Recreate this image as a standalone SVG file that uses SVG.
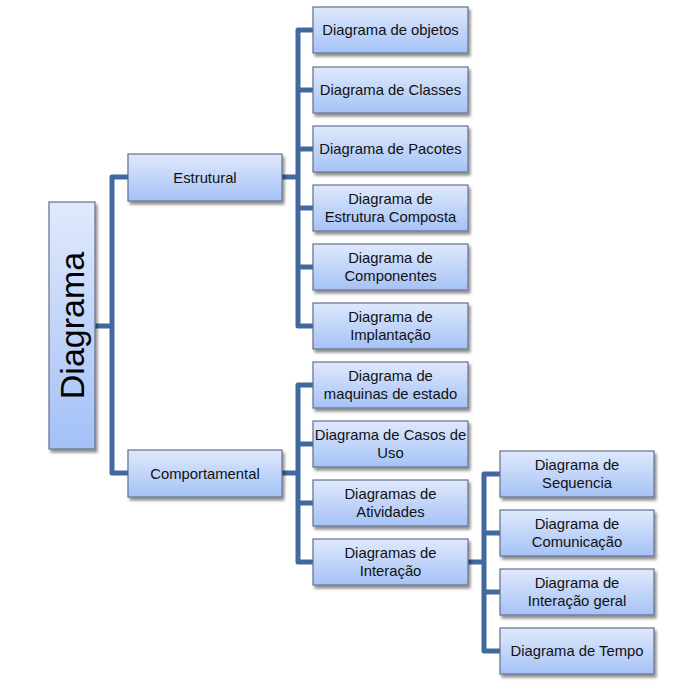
<svg xmlns="http://www.w3.org/2000/svg" width="692" height="692" viewBox="0 0 692 692">
<defs>
<linearGradient id="g" x1="0" y1="0" x2="0" y2="1">
<stop offset="0" stop-color="#dfe9fc"/>
<stop offset="1" stop-color="#a5c2f6"/>
</linearGradient>
<linearGradient id="gr" x1="0" y1="0" x2="0" y2="1">
<stop offset="0" stop-color="#e0eafc"/>
<stop offset="1" stop-color="#a3c0f6"/>
</linearGradient>
<filter id="sh" x="-10%" y="-10%" width="130%" height="140%">
<feGaussianBlur in="SourceAlpha" stdDeviation="1.6"/>
<feOffset dx="2" dy="3" result="b"/>
<feComponentTransfer><feFuncA type="linear" slope="0.45"/></feComponentTransfer>
<feMerge><feMergeNode/><feMergeNode in="SourceGraphic"/></feMerge>
</filter>
</defs>
<style>
.box{fill:url(#g);stroke:#66708a;stroke-width:1.2;filter:url(#sh)}
.t{font-family:"Liberation Sans",Arial,sans-serif;font-size:14.8px;fill:#111;text-anchor:middle}
.c{fill:none;stroke:#4169a0;stroke-width:5;stroke-linejoin:round}
</style>
<rect width="692" height="692" fill="#fff"/>
<g id="connectors">
<path class="c" d="M95,326 H112 M128,177 H112 V473 H128"/>
<path class="c" d="M282,177 H298 M313,30 H298 V326 H313 M298,90 H313 M298,149 H313 M298,208 H313 M298,267 H313"/>
<path class="c" d="M282,473 H298 M313,385 H298 V562 H313 M298,444 H313 M298,503 H313"/>
<path class="c" d="M468,562 H484 M500,474 H484 V651 H500 M484,533 H500 M484,592 H500"/>
</g>
<g id="root">
<rect class="box" x="49" y="202" width="46" height="247" style="fill:url(#gr)"/>
<text x="0" y="0" transform="translate(84,325.5) rotate(-90)" font-family="Liberation Sans, Arial, sans-serif" font-size="34" fill="#000" text-anchor="middle">Diagrama</text>
</g>
<g id="estrutural">
<rect class="box" x="128" y="154" width="154" height="47"/>
<text class="t" x="205" y="182.5">Estrutural</text>
</g>
<g id="comportamental">
<rect class="box" x="128" y="450" width="154" height="47"/>
<text class="t" x="205" y="478.5">Comportamental</text>
</g>
<g id="objetos">
<rect class="box" x="313" y="7" width="155" height="46"/>
<text class="t" x="390.5" y="35">Diagrama de objetos</text>
</g>
<g id="classes">
<rect class="box" x="313" y="67" width="155" height="46"/>
<text class="t" x="390.5" y="95">Diagrama de Classes</text>
</g>
<g id="pacotes">
<rect class="box" x="313" y="126" width="155" height="46"/>
<text class="t" x="390.5" y="154">Diagrama de Pacotes</text>
</g>
<g id="estrutura-composta">
<rect class="box" x="313" y="185" width="155" height="46"/>
<text class="t" x="390.5" y="204">Diagrama de</text>
<text class="t" x="390.5" y="222">Estrutura Composta</text>
</g>
<g id="componentes">
<rect class="box" x="313" y="244" width="155" height="46"/>
<text class="t" x="390.5" y="263">Diagrama de</text>
<text class="t" x="390.5" y="281">Componentes</text>
</g>
<g id="implantacao">
<rect class="box" x="313" y="303" width="155" height="46"/>
<text class="t" x="390.5" y="322">Diagrama de</text>
<text class="t" x="390.5" y="340">Implantação</text>
</g>
<g id="maquinas">
<rect class="box" x="313" y="362" width="155" height="46"/>
<text class="t" x="390.5" y="381">Diagrama de</text>
<text class="t" x="390.5" y="399">maquinas de estado</text>
</g>
<g id="casos-de-uso">
<rect class="box" x="313" y="421" width="155" height="46"/>
<text class="t" x="390.5" y="440">Diagrama de Casos de</text>
<text class="t" x="390.5" y="458">Uso</text>
</g>
<g id="atividades">
<rect class="box" x="313" y="480" width="155" height="46"/>
<text class="t" x="390.5" y="499">Diagramas de</text>
<text class="t" x="390.5" y="517">Atividades</text>
</g>
<g id="interacao">
<rect class="box" x="313" y="539" width="155" height="46"/>
<text class="t" x="390.5" y="558">Diagramas de</text>
<text class="t" x="390.5" y="576">Interação</text>
</g>
<g id="sequencia">
<rect class="box" x="500" y="451" width="154" height="46"/>
<text class="t" x="577" y="470">Diagrama de</text>
<text class="t" x="577" y="488">Sequencia</text>
</g>
<g id="comunicacao">
<rect class="box" x="500" y="510" width="154" height="46"/>
<text class="t" x="577" y="529">Diagrama de</text>
<text class="t" x="577" y="547">Comunicação</text>
</g>
<g id="interacao-geral">
<rect class="box" x="500" y="569" width="154" height="46"/>
<text class="t" x="577" y="588">Diagrama de</text>
<text class="t" x="577" y="606">Interação geral</text>
</g>
<g id="tempo">
<rect class="box" x="500" y="628" width="154" height="46"/>
<text class="t" x="577" y="656">Diagrama de Tempo</text>
</g>
</svg>
